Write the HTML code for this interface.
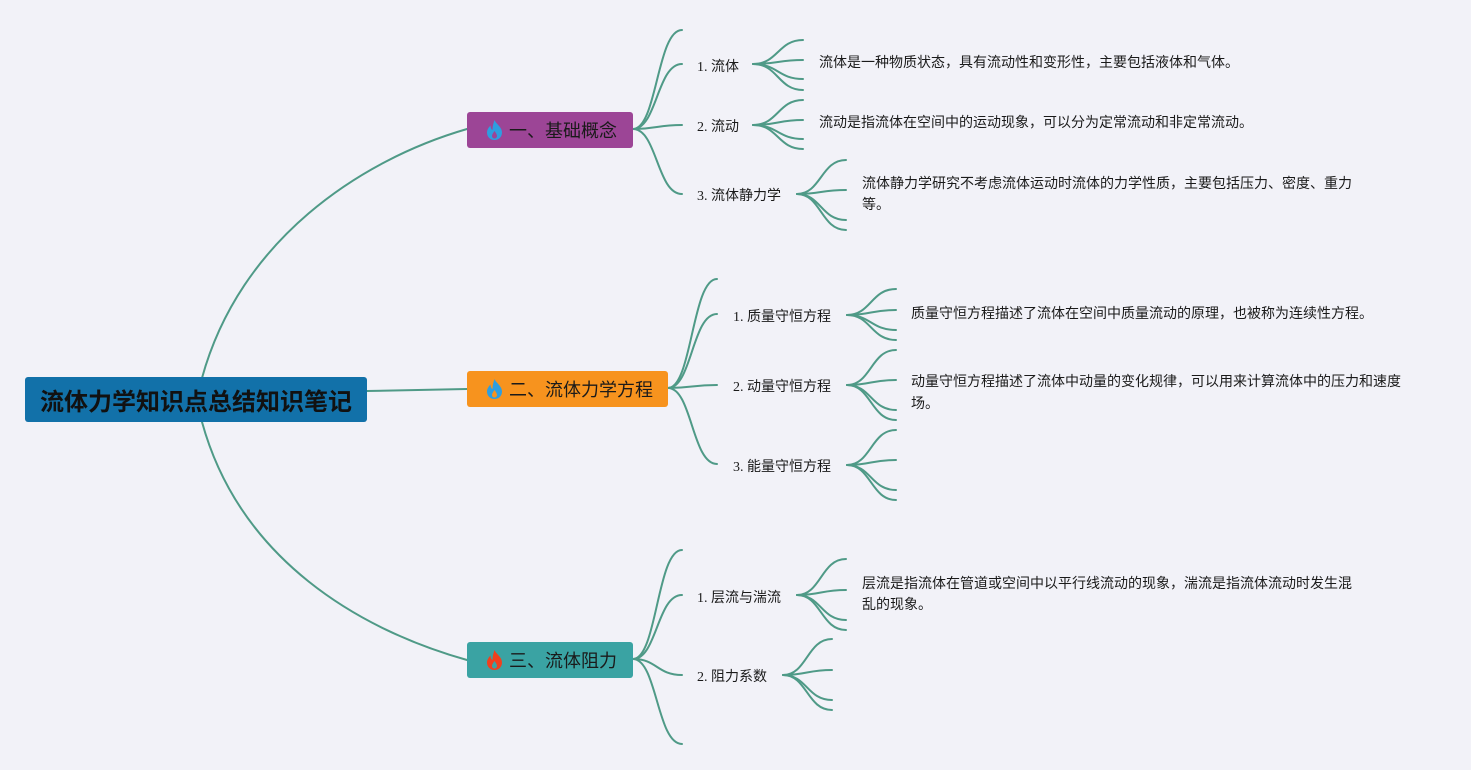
<!DOCTYPE html>
<html>
<head>
<meta charset="utf-8">
<style>
  html,body{margin:0;padding:0;}
  body{width:1471px;height:770px;background:#f2f2f8;position:relative;overflow:hidden;
       font-family:"Liberation Sans","Noto Sans CJK SC",sans-serif;color:#1a1a1a;}
  svg.lines{position:absolute;left:0;top:0;}
  .box{position:absolute;border-radius:3px;box-sizing:border-box;}
  .root{left:25px;top:377px;width:342px;height:45px;background:#1271a9;
        font-weight:bold;font-size:24px;line-height:46px;text-align:center;color:#111;
        font-family:"Noto Sans CJK SC",sans-serif;}
  .l1{height:36px;font-size:18px;line-height:37px;color:#1a1a1a;
      font-family:"Noto Sans CJK SC",sans-serif;}
  .l1 svg{position:absolute;left:19px;top:8px;}
  .l1 span{position:absolute;left:42px;top:0;white-space:nowrap;}
  .t{position:absolute;white-space:nowrap;font-size:14px;line-height:21px;
     font-family:"Liberation Serif","Noto Sans CJK SC",serif;color:#1a1a1a;}
  .d{position:absolute;white-space:nowrap;font-size:14px;line-height:21px;
     font-family:"Noto Sans CJK SC",sans-serif;color:#1a1a1a;}
</style>
</head>
<body>
<svg class="lines" width="1471" height="770" viewBox="0 0 1471 770" fill="none" stroke="#4f9a87" stroke-width="2" stroke-linecap="round">
  <!-- root to level1 -->
  <path d="M202,378 C240,240 360,160 467,129"/>
  <path d="M367,391 L467,389"/>
  <path d="M202,422 C240,560 360,630 467,660"/>

  <!-- purple level2 -->
  <path d="M633,129 C657,129 657,30 682,30"/>
  <path d="M633,129 C657,129 657,64 682,64"/>
  <path d="M633,129 C657,129 657,125 682,125"/>
  <path d="M633,129 C657,129 657,194 682,194"/>
  <!-- orange level2 -->
  <path d="M668,388 C692,388 692,279 717,279"/>
  <path d="M668,388 C692,388 692,314 717,314"/>
  <path d="M668,388 C692,388 692,385 717,385"/>
  <path d="M668,388 C692,388 692,464 717,464"/>
  <!-- teal level2 -->
  <path d="M633,659 C657,659 657,550 682,550"/>
  <path d="M633,659 C657,659 657,595 682,595"/>
  <path d="M633,659 C657,659 657,675 682,675"/>
  <path d="M633,659 C657,659 657,744 682,744"/>

  <!-- level3: 流体 -->
  <path d="M753,64 C778,64 778,40 803,40"/>
  <path d="M753,64 C778,64 778,60 803,60"/>
  <path d="M753,64 C778,64 778,79 803,79"/>
  <path d="M753,64 C778,64 778,90 803,90"/>
  <!-- 流动 -->
  <path d="M753,125 C778,125 778,100 803,100"/>
  <path d="M753,125 C778,125 778,120 803,120"/>
  <path d="M753,125 C778,125 778,139 803,139"/>
  <path d="M753,125 C778,125 778,149 803,149"/>
  <!-- 流体静力学 -->
  <path d="M797,194 C821,194 821,160 846,160"/>
  <path d="M797,194 C821,194 821,190 846,190"/>
  <path d="M797,194 C821,194 821,220 846,220"/>
  <path d="M797,194 C821,194 821,230 846,230"/>
  <!-- 质量 -->
  <path d="M847,315 C871,315 871,289 896,289"/>
  <path d="M847,315 C871,315 871,310 896,310"/>
  <path d="M847,315 C871,315 871,330 896,330"/>
  <path d="M847,315 C871,315 871,340 896,340"/>
  <!-- 动量 -->
  <path d="M847,385 C871,385 871,350 896,350"/>
  <path d="M847,385 C871,385 871,380 896,380"/>
  <path d="M847,385 C871,385 871,410 896,410"/>
  <path d="M847,385 C871,385 871,420 896,420"/>
  <!-- 能量 -->
  <path d="M847,465 C871,465 871,430 896,430"/>
  <path d="M847,465 C871,465 871,460 896,460"/>
  <path d="M847,465 C871,465 871,490 896,490"/>
  <path d="M847,465 C871,465 871,500 896,500"/>
  <!-- 层流 -->
  <path d="M797,595 C821,595 821,559 846,559"/>
  <path d="M797,595 C821,595 821,590 846,590"/>
  <path d="M797,595 C821,595 821,620 846,620"/>
  <path d="M797,595 C821,595 821,630 846,630"/>
  <!-- 阻力 -->
  <path d="M783,675 C807,675 807,639 832,639"/>
  <path d="M783,675 C807,675 807,670 832,670"/>
  <path d="M783,675 C807,675 807,700 832,700"/>
  <path d="M783,675 C807,675 807,710 832,710"/>
</svg>

<div class="box root">流体力学知识点总结知识笔记</div>

<div class="box l1" style="left:467px;top:112px;width:166px;background:#9c4596;">
  <svg width="17" height="20" viewBox="0 0 17 20"><path d="M8.5,0 C10,4 16,7 16,12.5 C16,17 12.5,20 8.5,20 C4.5,20 1,17 1,12.5 C1,9.5 3,7 4.5,5.5 C4.5,8 5.5,9.5 6.5,10 C6.5,6 7.5,3 8.5,0 Z M8.5,11 C7,13 6,14.5 6,16 C6,17.5 7.2,18.5 8.5,18.5 C9.8,18.5 11,17.5 11,16 C11,14.5 10,13 8.5,11 Z" fill="#2e9ee0" fill-rule="evenodd"/></svg>
  <span>一、基础概念</span>
</div>

<div class="box l1" style="left:467px;top:371px;width:201px;background:#f7931e;">
  <svg width="17" height="20" viewBox="0 0 17 20"><path d="M8.5,0 C10,4 16,7 16,12.5 C16,17 12.5,20 8.5,20 C4.5,20 1,17 1,12.5 C1,9.5 3,7 4.5,5.5 C4.5,8 5.5,9.5 6.5,10 C6.5,6 7.5,3 8.5,0 Z M8.5,11 C7,13 6,14.5 6,16 C6,17.5 7.2,18.5 8.5,18.5 C9.8,18.5 11,17.5 11,16 C11,14.5 10,13 8.5,11 Z" fill="#2e9ee0" fill-rule="evenodd"/></svg>
  <span>二、流体力学方程</span>
</div>

<div class="box l1" style="left:467px;top:642px;width:166px;background:#3aa3a3;">
  <svg width="17" height="20" viewBox="0 0 17 20"><path d="M8.5,0 C10,4 16,7 16,12.5 C16,17 12.5,20 8.5,20 C4.5,20 1,17 1,12.5 C1,9.5 3,7 4.5,5.5 C4.5,8 5.5,9.5 6.5,10 C6.5,6 7.5,3 8.5,0 Z M8.5,11 C7,13 6,14.5 6,16 C6,17.5 7.2,18.5 8.5,18.5 C9.8,18.5 11,17.5 11,16 C11,14.5 10,13 8.5,11 Z" fill="#f0401e" fill-rule="evenodd"/></svg>
  <span>三、流体阻力</span>
</div>

<!-- level 2 texts -->
<div class="t" style="left:697px;top:57px;">1. 流体</div>
<div class="t" style="left:697px;top:117px;">2. 流动</div>
<div class="t" style="left:697px;top:186px;">3. 流体静力学</div>
<div class="t" style="left:733px;top:307px;">1. 质量守恒方程</div>
<div class="t" style="left:733px;top:377px;">2. 动量守恒方程</div>
<div class="t" style="left:733px;top:457px;">3. 能量守恒方程</div>
<div class="t" style="left:697px;top:588px;">1. 层流与湍流</div>
<div class="t" style="left:697px;top:667px;">2. 阻力系数</div>

<!-- descriptions -->
<div class="d" style="left:819px;top:52px;">流体是一种物质状态，具有流动性和变形性，主要包括液体和气体。</div>
<div class="d" style="left:819px;top:112px;">流动是指流体在空间中的运动现象，可以分为定常流动和非定常流动。</div>
<div class="d" style="left:862px;top:173px;">流体静力学研究不考虑流体运动时流体的力学性质，主要包括压力、密度、重力<br>等。</div>
<div class="d" style="left:911px;top:303px;">质量守恒方程描述了流体在空间中质量流动的原理，也被称为连续性方程。</div>
<div class="d" style="left:911px;top:370px;line-height:22px;">动量守恒方程描述了流体中动量的变化规律，可以用来计算流体中的压力和速度<br>场。</div>
<div class="d" style="left:862px;top:573px;">层流是指流体在管道或空间中以平行线流动的现象，湍流是指流体流动时发生混<br>乱的现象。</div>
</body>
</html>
